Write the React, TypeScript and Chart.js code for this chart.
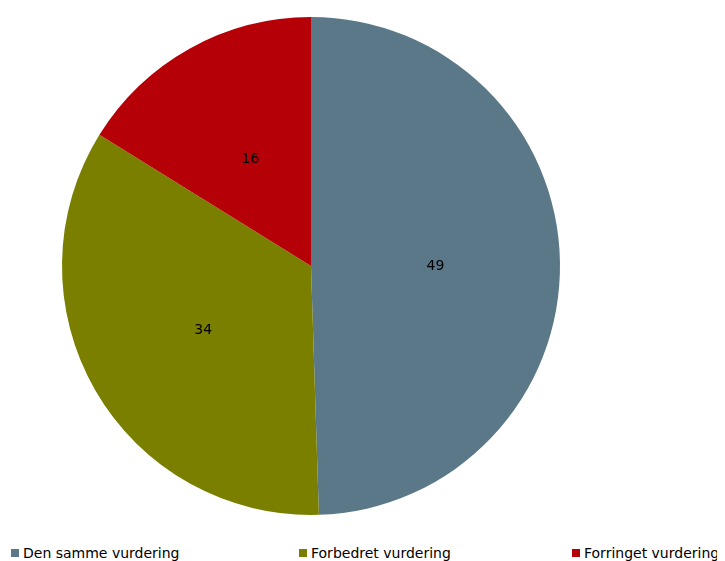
import React, { useEffect, useRef } from "react";
import { Chart, registerables } from "chart.js";

Chart.register(...registerables);

const categories = ["Den samme vurdering", "Forbedret vurdering", "Forringet vurdering"];
const values = [49, 34, 16];
const colors = ["#5a7888", "#7a7f00", "#b50007"];

const labelPlugin = {
  id: "sliceLabels",
  afterDatasetsDraw(chart: any) {
    const ctx = chart.ctx;
    const meta = chart.getDatasetMeta(0);
    ctx.save();
    ctx.font = "14px 'DejaVu Sans', Verdana, sans-serif";
    ctx.fillStyle = "#000";
    ctx.textAlign = "center";
    ctx.textBaseline = "middle";
    meta.data.forEach((arc: any, i: number) => {
      const p = arc.tooltipPosition();
      ctx.fillText(String(values[i]), p.x, p.y + 2);
    });
    ctx.restore();
  },
};

const legendPos = [3, 291, 564];

export default function App() {
  const ref = useRef<HTMLCanvasElement>(null);
  useEffect(() => {
    const chart = new Chart(ref.current!, {
      type: "pie",
      data: {
        labels: categories,
        datasets: [{ data: values, backgroundColor: colors, borderWidth: 0 }],
      },
      options: {
        animation: false,
        responsive: false,
        layout: { padding: 9 },
        plugins: { legend: { display: false }, tooltip: { enabled: false } },
      },
      plugins: [labelPlugin],
    });
    return () => chart.destroy();
  }, []);
  return (
    <div style={{ position: "relative", width: 717, height: 553, fontFamily: "'DejaVu Sans', Verdana, sans-serif" }}>
      <canvas ref={ref} width={606} height={516} style={{ position: "absolute", left: 0, top: 0 }} />
      {categories.map((c, i) => (
        <div
          key={c}
          style={{
            position: "absolute",
            left: legendPos[i],
            top: 537,
            display: "flex",
            alignItems: "center",
            fontSize: 14,
            whiteSpace: "nowrap",
            color: "#000",
            lineHeight: "16px",
          }}
        >
          <span style={{ display: "inline-block", width: 8, height: 8, background: colors[i], marginRight: 4 }} />
          {c}
        </div>
      ))}
    </div>
  );
}
